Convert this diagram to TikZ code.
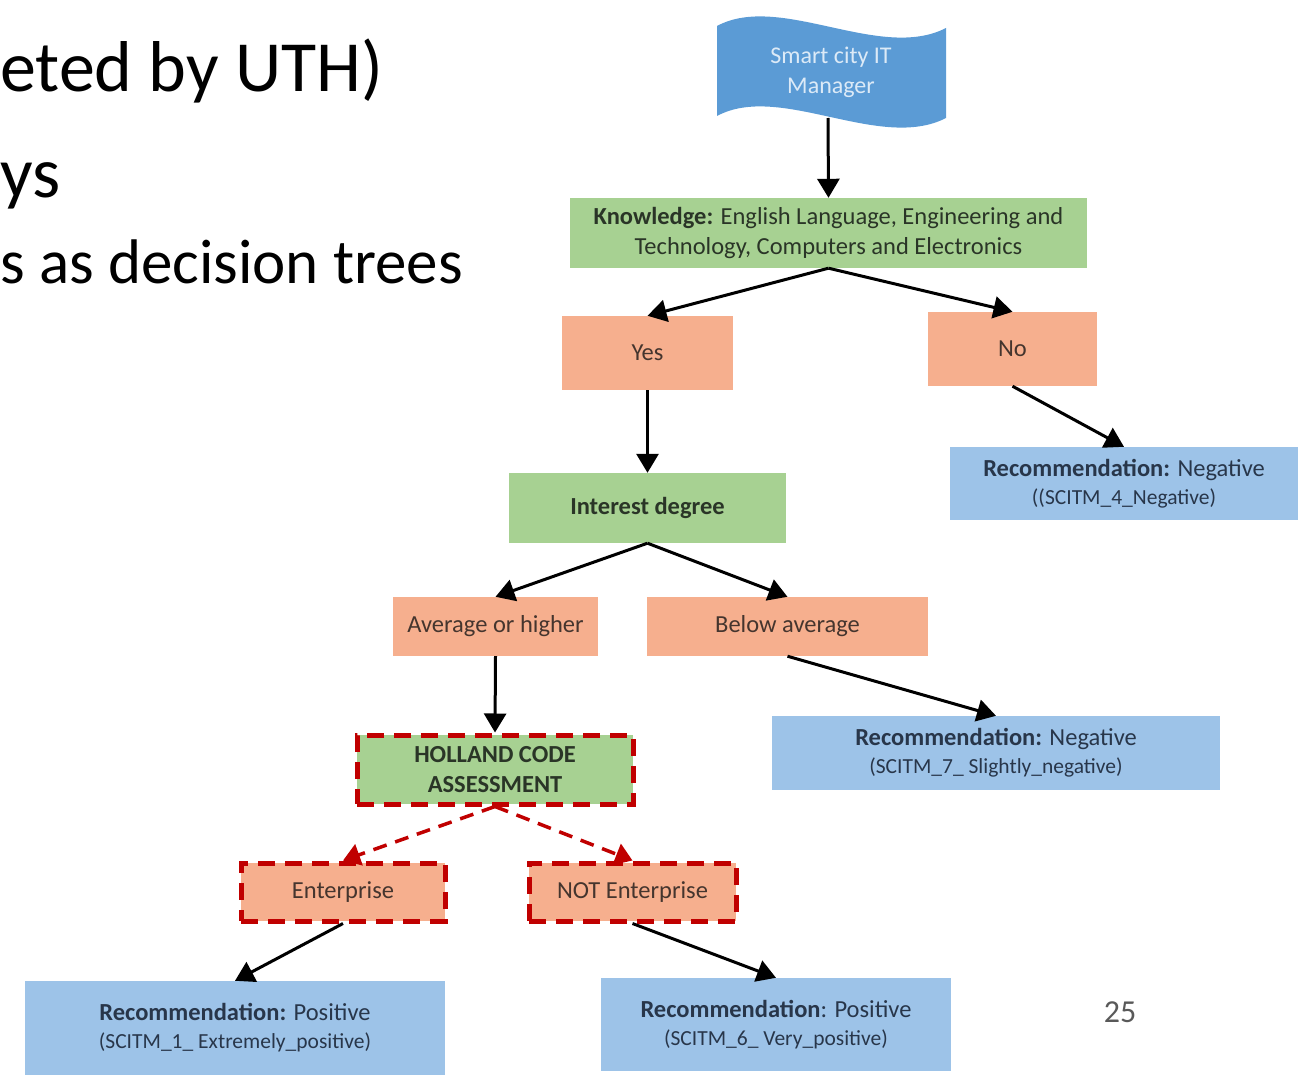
\documentclass[tikz,border=0pt]{standalone}
\usepackage{fontspec}
\setmainfont{Carlito}
\usetikzlibrary{arrows.meta}

\definecolor{bannerblue}{HTML}{5B9BD5}
\definecolor{bannertext}{HTML}{DCEAF7}
\definecolor{boxgreen}{HTML}{A7D192}
\definecolor{boxsalmon}{HTML}{F6AF8E}
\definecolor{boxblue}{HTML}{9DC3E8}
\definecolor{greentext}{HTML}{2A3527}
\definecolor{salmontext}{HTML}{45352E}
\definecolor{bluetext}{HTML}{28364A}
\definecolor{framered}{HTML}{C00000}
\definecolor{pagegray}{HTML}{595959}

\tikzset{
  box/.style={rectangle, inner sep=2pt, align=center,
    font=\fontsize{24.5}{30}\selectfont},
  greenbox/.style={box, fill=boxgreen, text=greentext},
  salmonbox/.style={box, fill=boxsalmon, text=salmontext},
  recbox/.style={box, fill=boxblue, text=bluetext,
    font=\fontsize{24.5}{28}\selectfont},
  redframe/.style={draw=framered, line width=5pt, dash pattern=on 17pt off 10pt},
  flow/.style={draw=black, line width=3pt,
    -{Triangle[length=19pt,width=22pt]}},
  dflow/.style={draw=framered, line width=3.5pt, dash pattern=on 14pt off 9pt,
    -{Triangle[length=17pt,width=22pt]}},
  heading/.style={anchor=base west, inner sep=0pt, text=black}
}
\newcommand{\subline}[1]{{\fontsize{21.5}{28}\selectfont #1}}

\begin{document}
\begin{tikzpicture}[x=1pt,y=-1pt]
\useasboundingbox (0,0) rectangle (1298,1078);

% slide text on the left
\node[heading, font=\fontsize{72}{80}\selectfont] (l1) at (0,92) {eted by UTH)};
\node[heading, font=\fontsize{72}{80}\selectfont] (l2) at (0,197) {ys};
\node[heading, font=\fontsize{63}{70}\selectfont] (l3) at (0,283) {s as decision trees};

% wavy banner
\fill[bannerblue] (717,26) .. controls (780,-8) and (880,62) .. (946,28)
  -- (946,118) .. controls (880,152) and (780,82) .. (717,116) -- cycle;
\node[inner sep=0pt, minimum width=229pt, minimum height=92pt, align=center,
  text=bannertext, font=\fontsize{24}{30}\selectfont] (mgr) at (831,72)
  {Smart city IT\\Manager};
\coordinate (mgrfoot) at (828,118);

% decision boxes
\node[greenbox, minimum width=517pt, minimum height=70pt] (know) at (828.5,233)
  {\textbf{Knowledge:} English Language, Engineering and\\Technology, Computers and Electronics};
\node[salmonbox, minimum width=171pt, minimum height=74pt] (yes) at (647.5,353) {Yes};
\node[salmonbox, minimum width=169pt, minimum height=74pt] (no) at (1012.5,349) {No};
\node[recbox, minimum width=348pt, minimum height=73pt] (rec4) at (1124,483.5)
  {\textbf{Recommendation:} Negative\\\subline{((SCITM\_4\_Negative)}};
\node[greenbox, minimum width=277pt, minimum height=70pt] (interest) at (647.5,508)
  {\textbf{Interest degree}};
\node[salmonbox, minimum width=205pt, minimum height=59pt] (avg) at (495.5,626.5)
  {Average or higher};
\node[salmonbox, minimum width=281pt, minimum height=59pt] (below) at (787.5,626.5)
  {Below average};
\node[recbox, minimum width=448pt, minimum height=74pt] (rec7) at (996,753)
  {\textbf{Recommendation:} Negative\\\subline{(SCITM\_7\_ Slightly\_negative)}};
\node[greenbox, redframe, minimum width=276pt, minimum height=69pt] (holland) at (495,769.5)
  {\textbf{HOLLAND CODE}\\\textbf{ASSESSMENT}};
\node[salmonbox, redframe, minimum width=204pt, minimum height=58pt] (ent) at (343,892)
  {Enterprise};
\node[salmonbox, redframe, minimum width=207pt, minimum height=58pt] (notent) at (632.5,892)
  {NOT Enterprise};
\node[recbox, minimum width=420pt, minimum height=94pt] (rec1) at (235,1028)
  {\textbf{Recommendation:} Positive\\\subline{(SCITM\_1\_ Extremely\_positive)}};
\node[recbox, minimum width=350pt, minimum height=93pt] (rec6) at (776,1024.5)
  {\textbf{Recommendation}: Positive\\\subline{(SCITM\_6\_ Very\_positive)}};

% page number
\node[inner sep=0pt, text=pagegray, font=\fontsize{32}{36}\selectfont] (page) at (1120,1012) {25};

% connectors
\draw[flow] (mgrfoot) -- (know.north);
\draw[flow] (know.south) -- (yes.north);
\draw[flow] (know.south) -- (no.north);
\draw[flow] (no.south) -- (rec4.north);
\draw[flow] (yes.south) -- (interest.north);
\draw[flow] (interest.south) -- (avg.north);
\draw[flow] (interest.south) -- (below.north);
\draw[flow] (avg.south) -- (holland.north);
\draw[flow] (below.south) -- (rec7.north);
\draw[dflow] (holland.south) -- (ent.north);
\draw[dflow] (holland.south) -- (notent.north);
\draw[flow] (ent.south) -- (rec1.north);
\draw[flow] (notent.south) -- (rec6.north);
\end{tikzpicture}
\end{document}
